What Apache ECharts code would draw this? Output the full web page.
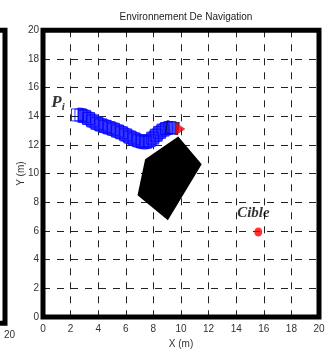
<!DOCTYPE html>
<html>
<head>
<meta charset="utf-8">
<script src="https://cdn.jsdelivr.net/npm/echarts@6/dist/echarts.min.js"></script>
<style>
html, body { margin: 0; padding: 0; background: #fff; }
#chart { width: 331px; height: 354px; }
</style>
</head>
<body>
<div id="chart"></div>
<script>
// robot trajectory (band centre)
const pathX = [2.5, 2.75, 3.0, 3.3, 3.6, 3.9, 4.2, 4.5, 4.8, 5.1, 5.4, 5.7, 6.0, 6.3, 6.6, 6.9, 7.2, 7.45, 7.7, 7.95, 8.2, 8.45, 8.7, 8.95, 9.2];
const pathY = [14.1, 14.08, 14.0, 13.85, 13.68, 13.52, 13.4, 13.3, 13.2, 13.1, 12.97, 12.85, 12.7, 12.55, 12.42, 12.3, 12.22, 12.2, 12.3, 12.48, 12.68, 12.88, 13.04, 13.15, 13.2];

// obstacle polygon
const obstacleX = [7.4, 9.8, 11.5, 9.05, 6.85];
const obstacleY = [11.0, 12.6, 10.65, 6.75, 8.5];

// environment walls
const wallX = [0, 20, 20, 0, 0];
const wallY = [0, 0, 20, 20, 0];

const robotPos = [9.38, 13.2];
const headingPos = [9.95, 13.12];
const targetPos = [15.6, 5.93];
const startLabelPos = [1.09, 14.94];
const targetLabelPos = [15.25, 7.22];

const chart = echarts.init(document.getElementById('chart'));

const tickFont = { fontFamily: '"Liberation Sans Narrow", "Liberation Sans", Arial', fontSize: 10, color: '#333' };
const dashed = { show: true, lineStyle: { color: '#222', width: 1, type: [7, 7] } };
const serif = '"Liberation Serif", "Times New Roman", serif';

const option = {
  animation: false,
  title: {
    text: 'Environnement De Navigation',
    left: 181,
    textAlign: 'center',
    top: 7,
    textStyle: { fontFamily: '"Liberation Sans Narrow", "Liberation Sans", Arial', fontSize: 10, fontWeight: 'normal', color: '#222' }
  },
  grid: [
    { left: 43, right: 12, top: 30.3, bottom: 30.7 },
    { left: 0, right: 326, top: 30.3, bottom: 30.7 }
  ],
  xAxis: [
    {
      type: 'value', min: 0, max: 20, interval: 2, gridIndex: 0,
      axisLine: { show: false }, axisTick: { show: false },
      splitLine: dashed,
      axisLabel: Object.assign({ margin: 7 }, tickFont),
      name: 'X (m)', nameLocation: 'middle', nameGap: 22, nameMoveOverlap: false,
      nameTextStyle: tickFont
    },
    {
      type: 'value', min: 19, max: 20, interval: 1, gridIndex: 1,
      axisLine: { show: false }, axisTick: { show: false }, splitLine: { show: false },
      axisLabel: Object.assign({ margin: 7, showMinLabel: false, padding: [0, 0, 0, 9] }, tickFont)
    }
  ],
  yAxis: [
    {
      type: 'value', min: 0, max: 20, interval: 2, gridIndex: 0,
      axisLine: { show: false }, axisTick: { show: false },
      splitLine: dashed,
      axisLabel: Object.assign({ margin: 4 }, tickFont),
      name: 'Y (m)', nameLocation: 'middle', nameGap: 17, nameMoveOverlap: false,
      nameTextStyle: tickFont
    },
    { type: 'value', min: 0, max: 20, gridIndex: 1, show: false }
  ],
  series: [
    {
      type: 'custom',
      data: [[obstacleX[0], obstacleY[0]]],
      renderItem: function (params, api) {
        const pts = obstacleX.map((x, i) => api.coord([x, obstacleY[i]]));
        return { type: 'polygon', shape: { points: pts }, style: { fill: '#000' } };
      },
      z: 3
    },
    {
      type: 'line',
      data: pathX.map((x, i) => [x, pathY[i]]),
      smooth: true,
      symbol: 'none',
      lineStyle: { color: '#3535ff', width: 15, cap: 'butt' },
      z: 4
    },
    {
      type: 'scatter',
      data: pathX.map((x, i) => [x, pathY[i]]),
      symbol: 'rect',
      symbolSize: 12,
      itemStyle: { color: 'rgba(0,0,0,0)', borderColor: '#0000ff', borderWidth: 1 },
      z: 5
    },
    {
      type: 'scatter',
      data: [robotPos],
      symbol: 'rect',
      symbolSize: 12,
      symbolRotate: -8,
      itemStyle: { color: '#1a1aff', borderColor: '#000', borderWidth: 1 },
      z: 6
    },
    {
      type: 'scatter',
      data: [headingPos],
      symbol: 'triangle',
      symbolSize: [12, 9],
      symbolRotate: -90,
      itemStyle: { color: '#ff0000', borderColor: '#600', borderWidth: 0.5 },
      z: 9
    },
    {
      type: 'scatter',
      data: [targetPos],
      symbol: 'circle',
      symbolSize: [8, 9],
      itemStyle: { color: '#ff0000' },
      z: 6
    },
    {
      type: 'line',
      data: wallX.map((x, i) => [x, wallY[i]]),
      symbol: 'none',
      clip: false,
      lineStyle: { color: '#000', width: 5, join: 'miter', cap: 'square' },
      z: 8
    },
    {
      type: 'line',
      xAxisIndex: 1, yAxisIndex: 1,
      data: wallX.map((x, i) => [x, wallY[i]]),
      symbol: 'none',
      clip: false,
      lineStyle: { color: '#000', width: 5, join: 'miter', cap: 'square' },
      z: 8
    },
    {
      type: 'scatter',
      symbolSize: 0,
      data: [startLabelPos, targetLabelPos],
      label: {
        show: true,
        position: 'inside',
        formatter: function (p) {
          return p.dataIndex === 0 ? '{p|P}{i|i}' : '{c|Cible}';
        },
        rich: {
          p: { fontFamily: serif, fontStyle: 'italic', fontWeight: 'bold', fontSize: 17, color: '#000' },
          i: { fontFamily: serif, fontStyle: 'italic', fontWeight: 'bold', fontSize: 11, color: '#000', padding: [8, 0, 0, 0] },
          c: { fontFamily: serif, fontStyle: 'italic', fontWeight: 'bold', fontSize: 15, color: '#000' }
        }
      },
      z: 9
    }
  ]
};

chart.setOption(option);
</script>
</body>
</html>
